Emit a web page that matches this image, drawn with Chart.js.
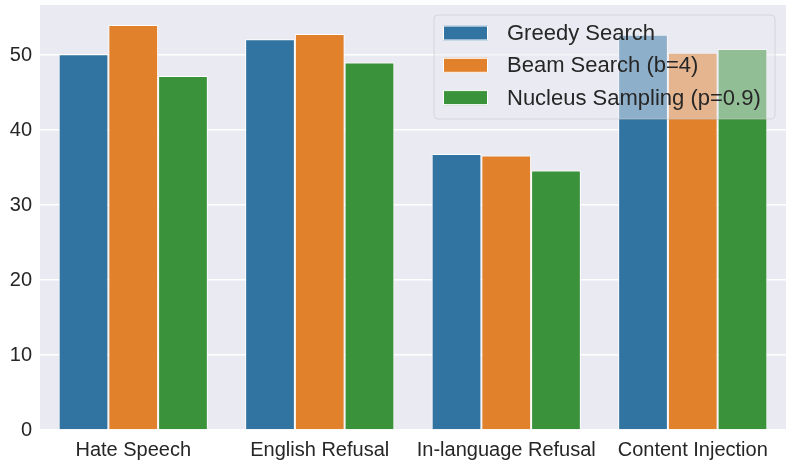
<!DOCTYPE html>
<html>
<head>
<meta charset="utf-8">
<script src="https://cdn.jsdelivr.net/npm/chart.js@4.4.0/dist/chart.umd.min.js"></script>
<style>
  body { margin: 0; background: #ffffff; }
  #wrap { width: 789px; height: 463px; position: relative; }
</style>
</head>
<body>
<div id="wrap"><canvas id="barChart"></canvas></div>
<script>
// data
var categories = ['Hate Speech', 'English Refusal', 'In-language Refusal', 'Content Injection'];
var seriesNames = ['Greedy Search', 'Beam Search (b=4)', 'Nucleus Sampling (p=0.9)'];
var greedy = [50.1, 52.1, 36.8, 52.7];
var beam = [54.0, 52.8, 36.6, 50.3];
var nucleus = [47.2, 49.0, 34.6, 50.8];
var yTicks = [0, 10, 20, 30, 40, 50];

var colors = ['#3274a1', '#e1812c', '#3a923a'];

Chart.defaults.font.family = "'Liberation Sans', Arial, sans-serif";
Chart.defaults.color = '#262626';

// grey plot background like seaborn darkgrid
var plotBg = {
    id: 'plotBg',
    beforeDraw: function(chart){
        var a = chart.chartArea;
        var ctx = chart.ctx;
        ctx.save();
        ctx.fillStyle = '#eaeaf2';
        ctx.fillRect(a.left, a.top, a.right - a.left, a.bottom - a.top);
        ctx.restore();
    }
};

// legend drawn on top of the bars, semi transparent
var overLegend = {
    id: 'overLegend',
    afterDatasetsDraw: function(chart){
        var ctx = chart.ctx;
        var x = 434, y = 15, w = 341, h = 104, r = 4;
        ctx.save();
        ctx.beginPath();
        ctx.roundRect(x, y, w, h, r);
        ctx.fillStyle = 'rgba(234,234,242,0.5)';
        ctx.fill();
        ctx.strokeStyle = 'rgba(200,200,200,0.6)';
        ctx.lineWidth = 1;
        ctx.stroke();
        ctx.font = "22px 'Liberation Sans', Arial, sans-serif";
        ctx.textBaseline = 'middle';
        ctx.textAlign = 'left';
        chart.data.datasets.forEach(function(ds, i){
            var cy = 33 + i * 32.3;
            ctx.fillStyle = ds.backgroundColor;
            ctx.fillRect(443, cy - 7.5, 45, 15);
            ctx.strokeStyle = '#ffffff';
            ctx.strokeRect(443.5, cy - 7, 44, 14);
            ctx.fillStyle = '#262626';
            ctx.fillText(ds.label, 507, cy + 1);
        });
        ctx.restore();
    }
};

var series = [greedy, beam, nucleus];
var ctx = document.getElementById('barChart').getContext('2d');
var barChart = new Chart(ctx, {
    type: 'bar',
    data: {
        labels: categories,
        datasets: series.map(function(vals, i){
            return {
                label: seriesNames[i],
                data: vals,
                backgroundColor: colors[i],
                borderColor: '#ffffff',
                borderWidth: 1,
                categoryPercentage: 0.8,
                barPercentage: 1.0
            };
        })
    },
    options: {
        responsive: true,
        maintainAspectRatio: false,
        animation: false,
        layout: { padding: { left: 0, right: 3, top: 5, bottom: 0 } },
        plugins: {
            legend: { display: false },
            tooltip: { enabled: false }
        },
        scales: {
            x: {
                grid: { display: false },
                border: { display: false },
                ticks: { font: { size: 20 }, padding: 0, maxRotation: 0 },
                afterFit: function(s){ s.height = 33; s.paddingLeft = 0; s.paddingRight = 0; }
            },
            y: {
                min: 0,
                max: 56.67,
                grid: { color: '#ffffff', lineWidth: 1.5, drawTicks: false },
                border: { display: false },
                ticks: { stepSize: 10, includeBounds: false, font: { size: 20 }, padding: 8 },
                afterBuildTicks: function(s){ s.ticks = yTicks.map(function(v){ return { value: v }; }); },
                afterFit: function(s){ s.width = 40; s.paddingTop = 0; s.paddingBottom = 0; }
            }
        }
    },
    plugins: [plotBg, overLegend]
});
</script>
</body>
</html>
